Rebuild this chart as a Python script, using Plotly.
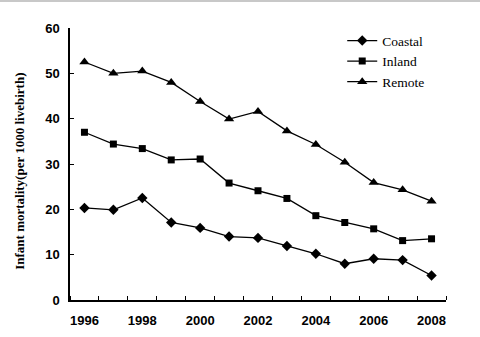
import plotly.graph_objects as go

years = list(range(1996, 2009))
coastal = [20.3, 19.9, 22.5, 17.1, 15.9, 14.0, 13.7, 11.9, 10.2, 8.0, 9.1, 8.8, 5.4]
inland = [37.0, 34.4, 33.4, 30.9, 31.1, 25.8, 24.1, 22.4, 18.6, 17.1, 15.7, 13.1, 13.5]
remote = [52.5, 50.0, 50.5, 48.0, 43.8, 39.9, 41.6, 37.3, 34.3, 30.4, 25.9, 24.3, 21.8]
series_names = ["Coastal", "Inland", "Remote"]
symbols = ["diamond", "square", "triangle-up"]
sizes = [8, 7, 9]
x_ticks = [1996, 1998, 2000, 2002, 2004, 2006, 2008]
y_ticks = [0, 10, 20, 30, 40, 50, 60]
y_title = "Infant mortality(per 1000 livebirth)"

fig = go.Figure()
for name, vals, sym, sz in zip(series_names, [coastal, inland, remote], symbols, sizes):
    fig.add_trace(go.Scatter(
        x=years, y=vals, name=name, mode="lines+markers",
        line=dict(color="black", width=1.3),
        marker=dict(symbol=sym, size=sz, color="black"),
    ))

fig.update_layout(
    width=480, height=337,
    margin=dict(l=70, r=34, t=28, b=36.5),
    plot_bgcolor="white", paper_bgcolor="white",
    showlegend=True,
    legend=dict(
        x=0.724, y=1.01, xanchor="left", yanchor="top",
        font=dict(family="Liberation Serif", size=13.5, color="black"),
        bgcolor="rgba(0,0,0,0)", tracegroupgap=0, itemwidth=30,
    ),
    shapes=[dict(type="line", xref="paper", yref="paper",
                 x0=-0.2, x1=1.1, y0=1.099, y1=1.099,
                 line=dict(color="#c8c8c8", width=2))],
    annotations=[dict(text=y_title, textangle=-90, xref="paper", yref="paper",
                      x=-0.133, y=0.475, xanchor="center", yanchor="middle",
                      showarrow=False,
                      font=dict(family="Liberation Serif", size=13, color="black", weight="bold"))],
)
fig.update_xaxes(
    range=[1995.5, 2008.5], tickvals=x_ticks, ticktext=[str(v) for v in x_ticks],
    ticks="", showgrid=False, zeroline=False, automargin=False,
    showline=True, linecolor="black", linewidth=1.5,
    tickfont=dict(family="Liberation Sans", size=13, color="black", weight="bold"),
    ticklabelstandoff=8,
    minor=dict(tickmode="linear", tick0=1995.5, dtick=1, ticks="inside",
               ticklen=4, tickcolor="black", tickwidth=1.2, showgrid=False),
)
fig.update_yaxes(
    range=[0, 60], tickvals=y_ticks, showgrid=False, zeroline=False, automargin=False,
    showline=True, linecolor="black", linewidth=1.5,
    ticks="inside", ticklen=4, tickcolor="black", tickwidth=1.2,
    tickfont=dict(family="Liberation Sans", size=13, color="black", weight="bold"),
    ticklabelstandoff=6,
)
fig.write_html("out.html")
